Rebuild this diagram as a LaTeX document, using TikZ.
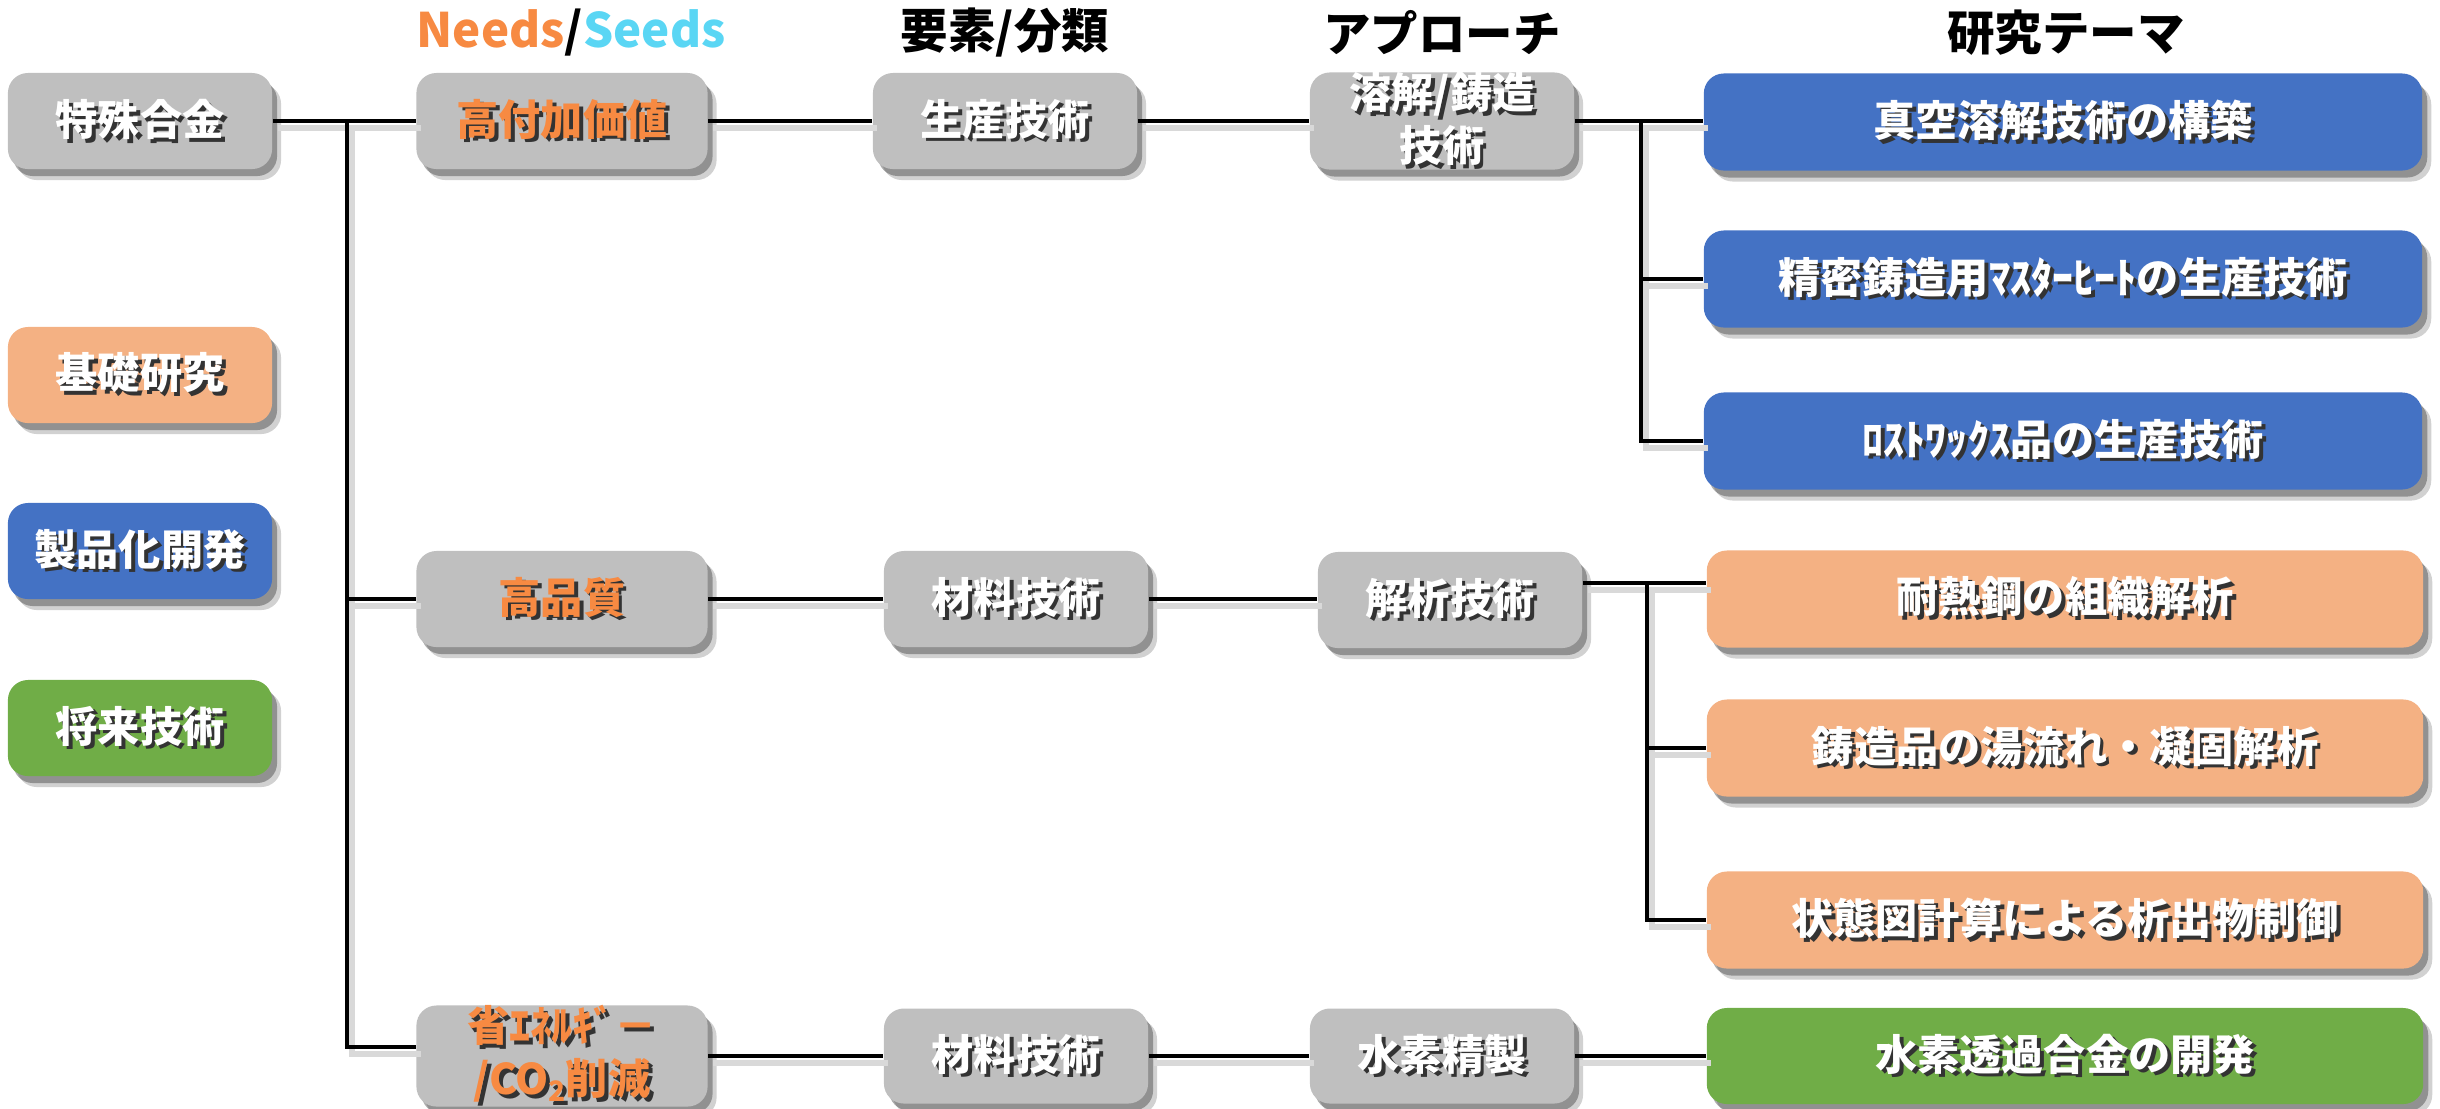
\documentclass[tikz,border=0pt]{standalone}
\usepackage{fontspec}
\setmainfont{Noto Sans CJK JP}
\usetikzlibrary{shadows}
\definecolor{boxgray}{HTML}{BFBFBF}
\definecolor{boxblue}{HTML}{4472C4}
\definecolor{boxorange}{HTML}{F4B183}
\definecolor{boxgreen}{HTML}{70AD47}
\definecolor{txtorange}{HTML}{F78A42}
\definecolor{needscol}{HTML}{F78A42}
\definecolor{seedscol}{HTML}{5AD6F4}
\newcommand\shd[1]{\leavevmode\rlap{\kern1.1pt\raisebox{-1.1pt}{\color{black!80}#1}}#1}
\tikzset{
  box/.style={rounded corners=0.2cm, minimum height=0.96cm, inner sep=0pt,
    align=center, text=white, font=\bfseries\fontsize{12}{14.5}\selectfont,
    drop shadow={shadow xshift=0.09cm, shadow yshift=-0.11cm, opacity=0.18, fill=black},
    drop shadow={shadow xshift=0.05cm, shadow yshift=-0.07cm, opacity=0.4, fill=black!80}},
  gbox/.style={box, fill=boxgray, minimum width=2.64cm},
  wbox/.style={box, fill=boxgray, minimum width=2.91cm},
  bbox/.style={box, fill=boxblue, minimum width=7.18cm, minimum height=0.97cm},
  obox/.style={box, fill=boxorange, minimum width=7.16cm, minimum height=0.97cm},
  grbox/.style={box, fill=boxgreen, minimum width=7.16cm, minimum height=0.97cm},
  hdr/.style={inner sep=0pt, font=\bfseries\fontsize{13.5}{16}\selectfont},
  conn/.style={line width=1.4pt, preaction={draw=black!15, line width=1.8pt,
    transform canvas={shift={(0.05cm,-0.07cm)}}}}
}
\begin{document}
\begin{tikzpicture}[x=0.01cm, y=-0.01cm]
\path[use as bounding box] (0,0) rectangle (2440,1108);

% headers
\node[hdr] (h1) at (571,33) {\textcolor{needscol}{Needs}/\textcolor{seedscol}{Seeds}};
\node[hdr] (h2) at (1005,33) {要素/分類};
\node[hdr] (h3) at (1442,33) {アプローチ};
\node[hdr] (h4) at (2066,33) {研究テーマ};

% left column
\node[gbox] (tokushu) at (140,121) {\shd{特殊合金}};
\node[box, fill=boxorange, minimum width=2.64cm] (kiso) at (140,375) {\shd{基礎研究}};
\node[box, fill=boxblue, minimum width=2.64cm] (seihin) at (140,551) {\shd{製品化開発}};
\node[box, fill=boxgreen, minimum width=2.64cm] (shorai) at (140,728) {\shd{将来技術}};

% needs/seeds column
\node[wbox, text=txtorange] (kofuka) at (562,121) {\shd{高付加価値}};
\node[wbox, text=txtorange] (kohin) at (562,599) {\shd{高品質}};
\node[wbox, text=txtorange, minimum height=0.95cm] (shoene) at (562,1056) {\shd{省ｴﾈﾙｷﾞ－}\\[0.6pt]\shd{/CO{\fontsize{8}{8}\selectfont\raisebox{-0.45ex}{2}}削減}};

% element column
\node[gbox] (seisan) at (1005,121) {\shd{生産技術}};
\node[gbox] (zairyo1) at (1016,599) {\shd{材料技術}};
\node[gbox, minimum height=0.95cm] (zairyo2) at (1016,1056) {\shd{材料技術}};

% approach column
\node[gbox] (yokai) at (1442,121) {\shd{溶解/鋳造}\\[0.6pt]\shd{技術}};
\node[gbox] (kaiseki) at (1450,600) {\shd{解析技術}};
\node[gbox, minimum height=0.95cm] (suiso) at (1442,1056) {\shd{水素精製}};

% themes
\node[bbox] (shinku) at (2063,122) {\shd{真空溶解技術の構築}};
\node[bbox] (seimitsu) at (2063,279) {\shd{精密鋳造用ﾏｽﾀｰﾋｰﾄの生産技術}};
\node[bbox] (lostwax) at (2063,441) {\shd{ﾛｽﾄﾜｯｸｽ品の生産技術}};
\node[obox] (tainetsu) at (2065,599) {\shd{耐熱鋼の組織解析}};
\node[obox] (chuzo) at (2065,748) {\shd{鋳造品の湯流れ・凝固解析}};
\node[obox] (jotai) at (2065,920) {\shd{状態図計算による析出物制御}};
\node[grbox, minimum height=0.96cm] (suisotoka) at (2065,1056) {\shd{水素透過合金の開発}};

% connectors
\coordinate (t1) at (347,121);
\coordinate (t2) at (347,1047);
\draw[conn] (tokushu.east) -- (kofuka.west);
\draw[conn] (t1) -- (t2) -- (t2 -| shoene.west);
\draw[conn] (t1 |- kohin.west) -- (kohin.west);

\draw[conn] (kofuka.east) -- (seisan.west);
\draw[conn] (seisan.east) -- (yokai.west);
\coordinate (r1) at (1641,121);
\draw[conn] (yokai.east) -- (yokai.east -| shinku.west);
\draw[conn] (r1) -- (r1 |- lostwax.west) -- (lostwax.west);
\draw[conn] (r1 |- seimitsu.west) -- (seimitsu.west);

\draw[conn] (kohin.east) -- (zairyo1.west);
\draw[conn] (zairyo1.east) -- (zairyo1.east -| kaiseki.west);
\coordinate (r2) at (1647,583);
\draw[conn] (kaiseki.east |- r2) -- (tainetsu.west |- r2);
\draw[conn] (r2) -- (r2 |- jotai.west) -- (jotai.west);
\draw[conn] (r2 |- chuzo.west) -- (chuzo.west);

\draw[conn] (shoene.east) -- (zairyo2.west);
\draw[conn] (zairyo2.east) -- (suiso.west);
\draw[conn] (suiso.east) -- (suisotoka.west);
\end{tikzpicture}
\end{document}
